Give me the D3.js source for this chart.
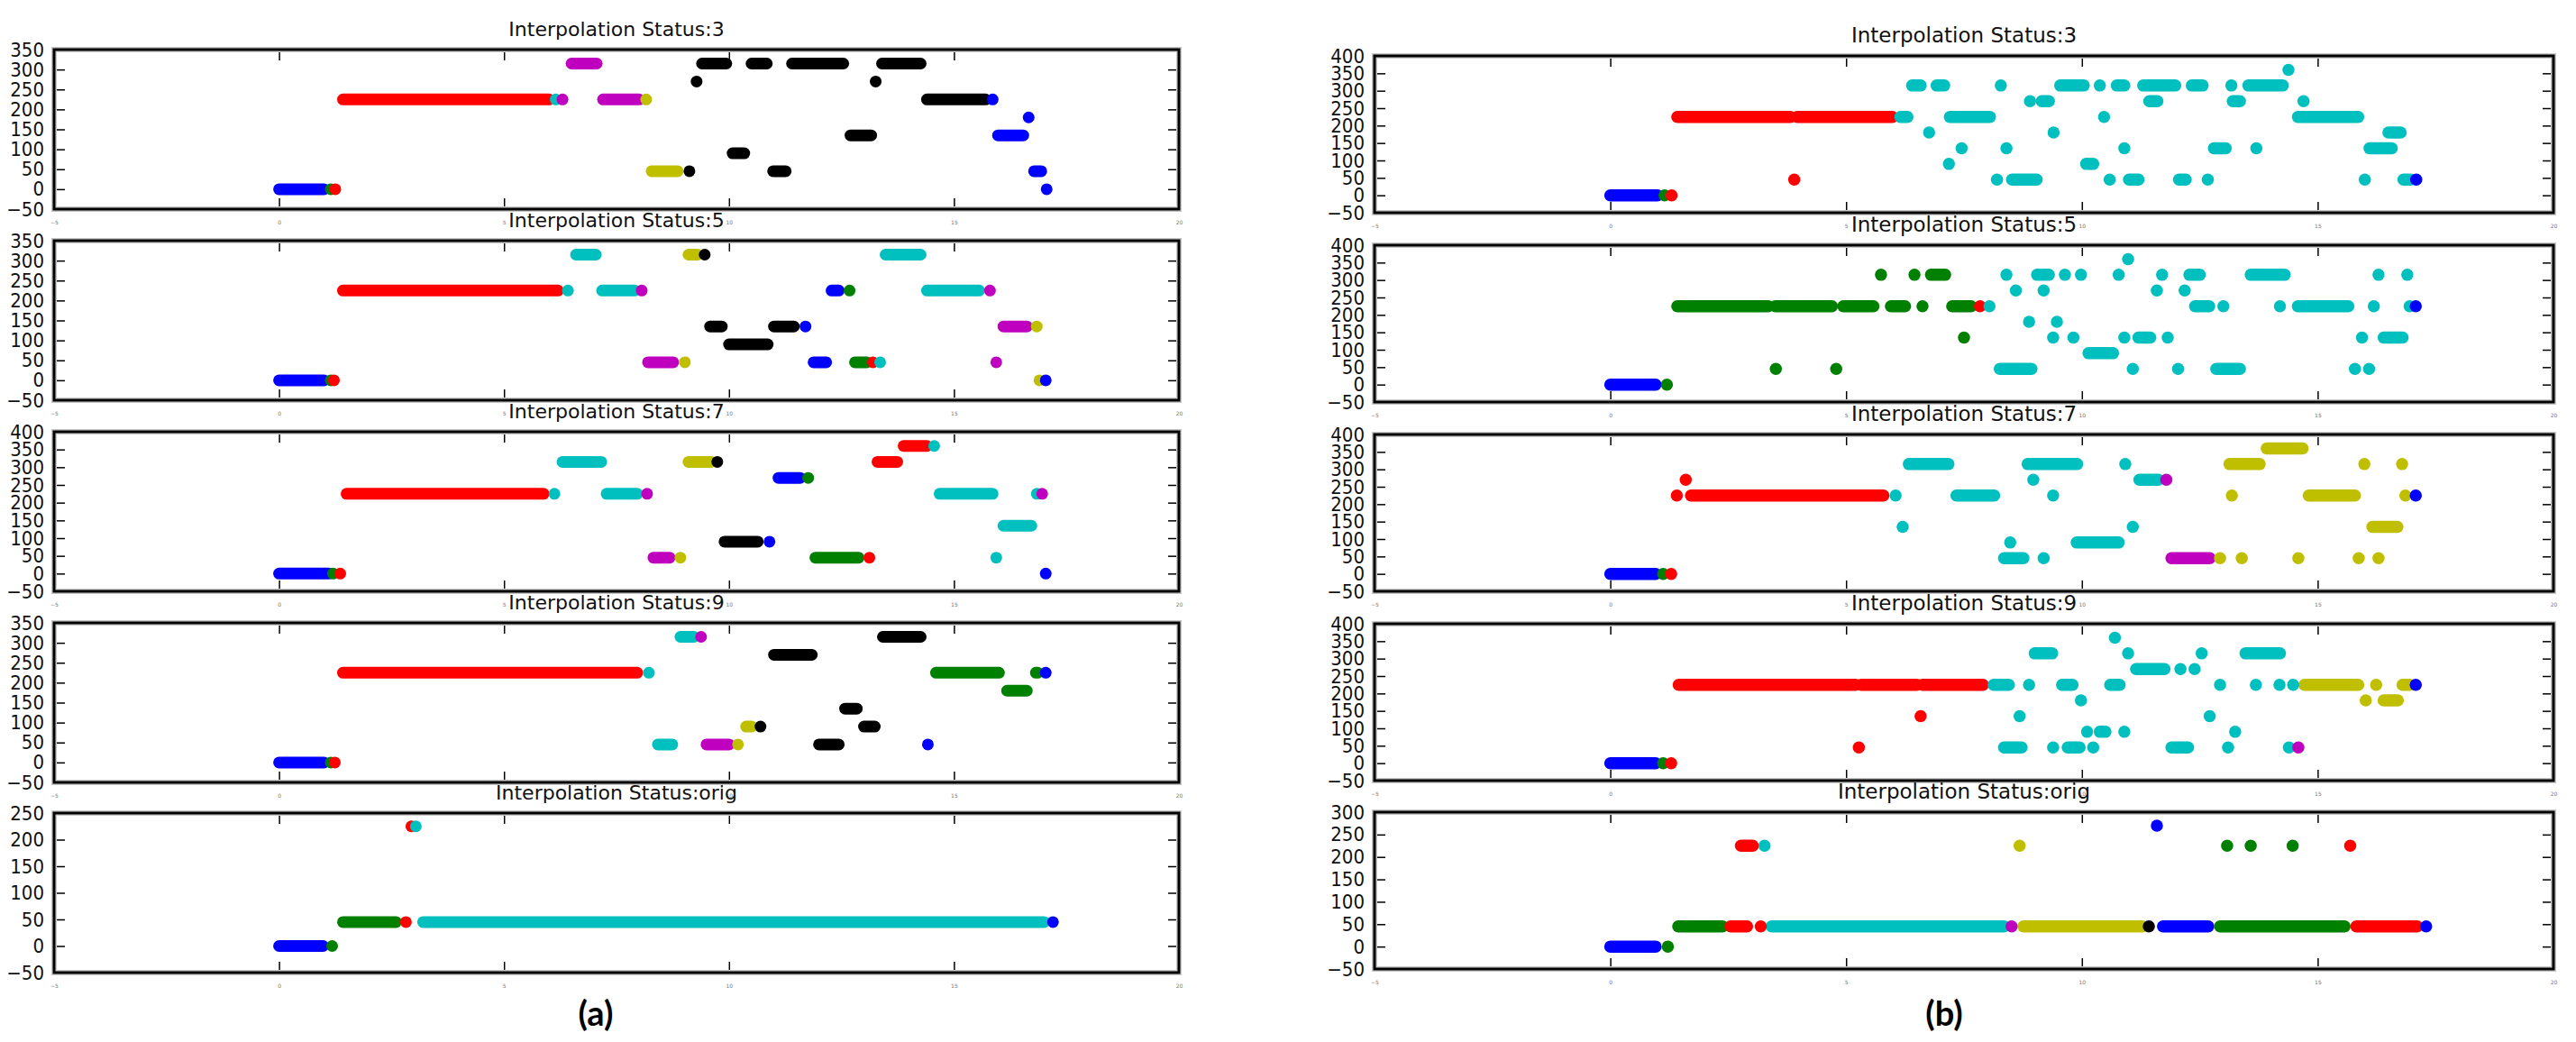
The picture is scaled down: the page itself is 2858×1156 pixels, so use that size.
<!DOCTYPE html>
<html>
<head>
<meta charset="utf-8">
<script src="https://cdn.jsdelivr.net/npm/d3@7"></script>
<style>
  body { margin: 0; background: #fff; }
  svg { display: block; }
</style>
</head>
<body>
<svg id="chart"></svg>
<script>
// Panel titles and tick values
const titles = ["Interpolation Status:3", "Interpolation Status:5", "Interpolation Status:7",
                "Interpolation Status:9", "Interpolation Status:orig"];
const xTicks = [-5, 0, 5, 10, 15, 20];
const yMaxA = [350, 350, 400, 350, 250];
const yMaxB = [400, 400, 400, 400, 300];

// Each run: [colour, x start, x end, y]  (x start == x end is a single point)
const a3 = [
  ["b", 0, 1.0, 0], ["g", 1.15, 1.15, 0], ["r", 1.25, 1.25, 0],
  ["r", 1.42, 6.0, 225], ["c", 6.15, 6.15, 225], ["m", 6.3, 6.3, 225],
  ["m", 6.5, 7.06, 315],
  ["m", 7.2, 8.0, 225], ["y", 8.16, 8.16, 225],
  ["y", 8.28, 8.86, 45], ["k", 9.12, 9.12, 45],
  ["k", 9.28, 9.28, 270], ["k", 13.26, 13.26, 270],
  ["k", 9.4, 9.94, 315], ["k", 10.5, 10.84, 315], ["k", 11.4, 12.54, 315], ["k", 13.4, 14.26, 315],
  ["k", 10.08, 10.34, 90],
  ["k", 10.98, 11.26, 45],
  ["k", 12.7, 13.16, 135],
  ["k", 14.4, 15.7, 225], ["b", 15.86, 15.86, 225],
  ["b", 15.98, 16.54, 135],
  ["b", 16.66, 16.66, 180],
  ["b", 16.78, 16.94, 45],
  ["b", 17.06, 17.06, 0]
];
const a5 = [
  ["b", 0, 1.0, 0], ["g", 1.15, 1.15, 0], ["r", 1.22, 1.22, 0],
  ["r", 1.42, 6.2, 225], ["c", 6.42, 6.42, 225],
  ["c", 6.6, 7.04, 315],
  ["c", 7.18, 7.9, 225], ["m", 8.06, 8.06, 225],
  ["m", 8.2, 8.76, 45], ["y", 9.02, 9.02, 45],
  ["y", 9.1, 9.3, 315], ["k", 9.46, 9.46, 315],
  ["k", 9.58, 9.84, 135],
  ["k", 10.0, 10.86, 90],
  ["k", 11.0, 11.44, 135], ["b", 11.7, 11.7, 135],
  ["b", 11.88, 12.16, 45],
  ["b", 12.28, 12.44, 225], ["g", 12.68, 12.68, 225],
  ["g", 12.8, 13.06, 45], ["r", 13.2, 13.2, 45], ["c", 13.36, 13.36, 45],
  ["c", 13.48, 14.26, 315],
  ["c", 14.4, 15.56, 225], ["m", 15.8, 15.8, 225],
  ["m", 15.94, 15.94, 45],
  ["m", 16.1, 16.62, 135], ["y", 16.84, 16.84, 135],
  ["y", 16.9, 16.9, 0], ["b", 17.04, 17.04, 0]
];
const a7 = [
  ["b", 0, 1.1, 0], ["g", 1.2, 1.2, 0], ["r", 1.36, 1.36, 0],
  ["r", 1.5, 5.88, 225], ["c", 6.12, 6.12, 225],
  ["c", 6.3, 7.16, 315],
  ["c", 7.28, 7.96, 225], ["m", 8.18, 8.18, 225],
  ["m", 8.32, 8.68, 45], ["y", 8.92, 8.92, 45],
  ["y", 9.1, 9.6, 315], ["k", 9.74, 9.74, 315],
  ["k", 9.9, 10.64, 90], ["b", 10.9, 10.9, 90],
  ["b", 11.1, 11.58, 270], ["g", 11.76, 11.76, 270],
  ["g", 11.92, 12.88, 45], ["r", 13.12, 13.12, 45],
  ["r", 13.3, 13.74, 315],
  ["r", 13.88, 14.4, 360], ["c", 14.56, 14.56, 360],
  ["c", 14.68, 15.86, 225],
  ["c", 15.94, 15.94, 45],
  ["c", 16.1, 16.72, 135],
  ["c", 16.84, 16.84, 225], ["m", 16.96, 16.96, 225],
  ["b", 17.04, 17.04, 0]
];
const a9 = [
  ["b", 0, 1.0, 0], ["g", 1.15, 1.15, 0], ["r", 1.24, 1.24, 0],
  ["r", 1.42, 7.96, 225], ["c", 8.22, 8.22, 225],
  ["c", 8.42, 8.74, 45],
  ["c", 8.92, 9.22, 315], ["m", 9.38, 9.38, 315],
  ["m", 9.5, 10.0, 45], ["y", 10.2, 10.2, 45],
  ["y", 10.38, 10.5, 90], ["k", 10.7, 10.7, 90],
  ["k", 11.0, 11.84, 270],
  ["k", 12.0, 12.44, 45],
  ["k", 12.58, 12.84, 135],
  ["k", 13.0, 13.24, 90],
  ["k", 13.42, 14.26, 315],
  ["b", 14.42, 14.42, 45],
  ["g", 14.6, 16.0, 225],
  ["g", 16.18, 16.62, 180],
  ["g", 16.82, 16.86, 225], ["b", 17.04, 17.04, 225]
];
const aOrig = [
  ["b", 0, 0.98, 0], ["g", 1.18, 1.18, 0],
  ["g", 1.42, 2.6, 45], ["r", 2.82, 2.82, 45],
  ["r", 2.94, 2.94, 225], ["c", 3.04, 3.04, 225],
  ["c", 3.2, 17.0, 45], ["b", 17.2, 17.2, 45]
];

const b3 = [
  ["b", 0, 1.0, 0], ["g", 1.15, 1.15, 0], ["r", 1.3, 1.3, 0],
  ["r", 1.42, 3.82, 225], ["r", 3.96, 5.98, 225], ["c", 6.15, 6.3, 225],
  ["r", 3.9, 3.9, 45],
  ["c", 6.4, 6.58, 315], ["c", 6.92, 7.08, 315],
  ["c", 6.76, 6.76, 180],
  ["c", 7.18, 7.18, 90],
  ["c", 7.2, 8.05, 225],
  ["c", 7.45, 7.45, 135],
  ["c", 8.2, 8.2, 45], ["c", 8.52, 9.04, 45],
  ["c", 8.28, 8.28, 315],
  ["c", 8.4, 8.4, 135],
  ["c", 8.9, 8.9, 270], ["c", 9.15, 9.3, 270],
  ["c", 9.4, 9.4, 180],
  ["c", 9.54, 10.04, 315],
  ["c", 10.09, 10.24, 90],
  ["c", 10.38, 10.38, 315],
  ["c", 10.47, 10.47, 225],
  ["c", 10.59, 10.59, 45],
  ["c", 10.74, 10.9, 315],
  ["c", 10.9, 10.9, 135],
  ["c", 11.0, 11.2, 45],
  ["c", 11.3, 11.98, 315],
  ["c", 11.43, 11.6, 270],
  ["c", 12.06, 12.2, 45],
  ["c", 12.33, 12.56, 315],
  ["c", 12.67, 12.67, 45],
  ["c", 12.8, 13.05, 135],
  ["c", 13.17, 13.17, 315],
  ["c", 13.2, 13.35, 270],
  ["c", 13.53, 14.26, 315],
  ["c", 13.7, 13.7, 135],
  ["c", 14.38, 14.38, 360],
  ["c", 14.58, 15.86, 225],
  ["c", 14.7, 14.7, 270],
  ["c", 16.0, 16.0, 45],
  ["c", 16.1, 16.57, 135],
  ["c", 16.5, 16.76, 180],
  ["c", 16.82, 16.97, 45], ["b", 17.09, 17.09, 45]
];
const b5 = [
  ["b", 0, 0.96, 0], ["g", 1.2, 1.2, 0],
  ["g", 1.42, 3.35, 225], ["g", 3.5, 4.7, 225], ["g", 4.94, 5.58, 225], ["g", 5.95, 6.25, 225],
  ["g", 6.62, 6.62, 225], ["g", 7.25, 7.65, 225], ["r", 7.84, 7.84, 225], ["c", 8.04, 8.04, 225],
  ["g", 5.74, 5.74, 315], ["g", 6.45, 6.45, 315], ["g", 6.8, 7.1, 315],
  ["g", 7.5, 7.5, 135],
  ["g", 3.51, 3.51, 45], ["g", 4.79, 4.79, 45],
  ["c", 10.98, 10.98, 360],
  ["c", 8.4, 8.4, 315], ["c", 9.05, 9.3, 315], ["c", 9.64, 9.64, 315], ["c", 9.98, 9.98, 315],
  ["c", 10.78, 10.78, 315], ["c", 11.7, 11.7, 315], ["c", 12.28, 12.5, 315], ["c", 13.58, 14.3, 315],
  ["c", 16.29, 16.29, 315], ["c", 16.9, 16.9, 315],
  ["c", 8.6, 8.6, 270], ["c", 9.19, 9.19, 270], ["c", 11.59, 11.59, 270], ["c", 12.18, 12.18, 270],
  ["c", 12.4, 12.7, 225], ["c", 13.0, 13.0, 225], ["c", 14.2, 14.2, 225], ["c", 14.58, 15.65, 225],
  ["c", 16.19, 16.19, 225], ["c", 16.95, 16.95, 225], ["b", 17.08, 17.08, 225],
  ["c", 8.88, 8.88, 180], ["c", 9.47, 9.47, 180],
  ["c", 9.39, 9.39, 135], ["c", 9.82, 9.82, 135], ["c", 10.9, 10.9, 135], ["c", 11.2, 11.45, 135],
  ["c", 11.82, 11.82, 135], ["c", 15.94, 15.94, 135], ["c", 16.4, 16.8, 135],
  ["c", 10.14, 10.66, 90],
  ["c", 8.26, 8.93, 45], ["c", 11.08, 11.08, 45], ["c", 12.04, 12.04, 45], ["c", 12.85, 13.35, 45],
  ["c", 15.79, 15.79, 45], ["c", 16.09, 16.09, 45]
];
const b7 = [
  ["b", 0, 0.96, 0], ["g", 1.12, 1.12, 0], ["r", 1.29, 1.29, 0],
  ["r", 1.41, 1.41, 225], ["r", 1.71, 5.79, 225], ["c", 6.05, 6.05, 225],
  ["r", 1.6, 1.6, 270],
  ["c", 6.33, 7.17, 315], ["c", 8.85, 9.9, 315], ["c", 10.92, 10.92, 315],
  ["c", 8.97, 8.97, 270], ["c", 11.22, 11.62, 270], ["m", 11.79, 11.79, 270],
  ["c", 7.34, 8.14, 225], ["c", 9.39, 9.39, 225],
  ["c", 6.2, 6.2, 135], ["c", 11.08, 11.08, 135],
  ["c", 8.48, 8.48, 90], ["c", 9.89, 10.78, 90],
  ["c", 8.35, 8.76, 45], ["c", 9.19, 9.19, 45],
  ["m", 11.9, 12.71, 45], ["y", 12.93, 12.93, 45],
  ["y", 13.39, 13.39, 45], ["y", 14.59, 14.59, 45], ["y", 15.87, 15.87, 45], ["y", 16.29, 16.29, 45],
  ["y", 13.92, 14.68, 360],
  ["y", 13.13, 13.77, 315], ["y", 15.99, 15.99, 315], ["y", 16.79, 16.79, 315],
  ["y", 13.18, 13.18, 225], ["y", 14.81, 15.79, 225], ["y", 16.86, 16.86, 225], ["b", 17.08, 17.08, 225],
  ["y", 16.16, 16.69, 135]
];
const b9 = [
  ["b", 0, 0.96, 0], ["g", 1.12, 1.12, 0], ["r", 1.29, 1.29, 0],
  ["r", 1.45, 5.2, 225], ["r", 5.32, 6.5, 225], ["r", 6.62, 7.9, 225], ["c", 8.13, 8.45, 225],
  ["r", 6.58, 6.58, 135],
  ["r", 5.27, 5.27, 45],
  ["c", 10.7, 10.7, 360],
  ["c", 9.0, 9.37, 315], ["c", 10.98, 10.98, 315], ["c", 12.54, 12.54, 315], ["c", 13.47, 14.2, 315],
  ["c", 11.15, 11.75, 270], ["c", 12.09, 12.09, 270], ["c", 12.39, 12.39, 270],
  ["c", 8.88, 8.88, 225], ["c", 9.58, 9.8, 225], ["c", 10.6, 10.8, 225], ["c", 12.93, 12.93, 225],
  ["c", 13.69, 13.69, 225], ["c", 14.19, 14.19, 225], ["c", 14.48, 14.48, 225],
  ["y", 14.72, 15.86, 225], ["y", 16.24, 16.24, 225], ["y", 16.8, 16.95, 225], ["b", 17.08, 17.08, 225],
  ["c", 9.98, 9.98, 180],
  ["y", 16.02, 16.02, 180], ["y", 16.4, 16.7, 180],
  ["c", 8.68, 8.68, 135], ["c", 12.71, 12.71, 135],
  ["c", 10.11, 10.11, 90], ["c", 10.38, 10.5, 90], ["c", 10.9, 10.9, 90], ["c", 13.25, 13.25, 90],
  ["c", 8.35, 8.72, 45], ["c", 9.39, 9.39, 45], ["c", 9.7, 9.95, 45], ["c", 10.24, 10.24, 45],
  ["c", 11.9, 12.25, 45], ["c", 13.1, 13.1, 45], ["c", 14.39, 14.39, 45], ["m", 14.59, 14.59, 45]
];
const bOrig = [
  ["b", 0, 0.96, 0], ["g", 1.22, 1.22, 0],
  ["b", 11.59, 11.59, 270],
  ["r", 2.77, 3.02, 225], ["c", 3.27, 3.27, 225],
  ["y", 8.68, 8.68, 225],
  ["g", 13.08, 13.08, 225], ["g", 13.58, 13.58, 225], ["g", 14.47, 14.47, 225],
  ["r", 15.69, 15.69, 225],
  ["g", 1.44, 2.38, 45], ["r", 2.55, 2.9, 45], ["r", 3.19, 3.19, 45],
  ["c", 3.42, 8.35, 45], ["m", 8.51, 8.51, 45], ["y", 8.76, 11.28, 45], ["k", 11.42, 11.42, 45],
  ["b", 11.72, 12.68, 45], ["g", 12.93, 15.57, 45], ["r", 15.82, 17.11, 45], ["b", 17.3, 17.3, 45]
];

// matplotlib classic colour letters
const colors = { b: "#0000ff", g: "#008000", r: "#ff0000", c: "#00bfbf", m: "#bf00bf", y: "#bfbf00", k: "#000000" };

const width = 2858, height = 1156;
const svg = d3.select("#chart")
  .attr("width", width)
  .attr("height", height);

const columns = [
  { left: 60, right: 1308, tops: [55, 267, 479, 691, 902], h: 177, data: [a3, a5, a7, a9, aOrig],
    yMax: yMaxA, label: "(a)", labelX: 661, titleSize: 22, dot: 13 },
  { left: 1525, right: 2833, tops: [62, 272, 482, 692, 901], h: 174, data: [b3, b5, b7, b9, bOrig],
    yMax: yMaxB, label: "(b)", labelX: 2157, titleSize: 23, dot: 13.5 }
];

columns.forEach(col => {
  col.tops.forEach((top, i) => {
    const g = svg.append("g");
    const x = d3.scaleLinear().domain([-5, 20]).range([col.left, col.right]);
    const y = d3.scaleLinear().domain([-50, col.yMax[i]]).range([top + col.h, top]);
    const yTicks = d3.range(-50, col.yMax[i] + 1, 50);

    // markers (runs of dots)
    const runs = col.data[i];
    g.selectAll("line.run")
      .data(runs.filter(d => d[1] !== d[2]))
      .enter().append("line")
      .attr("class", "run")
      .attr("x1", d => x(d[1])).attr("x2", d => x(d[2]))
      .attr("y1", d => y(d[3])).attr("y2", d => y(d[3]))
      .attr("stroke", d => colors[d[0]])
      .attr("stroke-width", col.dot)
      .attr("stroke-linecap", "round");
    // single points on top
    runs.forEach(d => {
      if (d[1] === d[2]) {
        g.append("circle")
          .attr("cx", x(d[1])).attr("cy", y(d[3]))
          .attr("r", col.dot / 2)
          .attr("fill", colors[d[0]]);
      }
    });

    // axes with inward ticks
    const yAxis = g.append("g")
      .attr("transform", `translate(${col.left},0)`)
      .call(d3.axisLeft(y).tickValues(yTicks).tickSizeInner(-12).tickSizeOuter(0).tickPadding(11));
    yAxis.selectAll("text")
      .attr("font-family", "'DejaVu Sans Condensed', 'DejaVu Sans', sans-serif")
      .attr("font-size", 22).attr("fill", "#111");

    g.append("g")
      .attr("transform", `translate(${col.right},0)`)
      .call(d3.axisRight(y).tickValues(yTicks).tickSizeInner(-12).tickSizeOuter(0).tickFormat(""));

    g.append("g")
      .attr("transform", `translate(0,${top})`)
      .call(d3.axisTop(x).tickValues(xTicks).tickSizeInner(-12).tickSizeOuter(0).tickFormat(""));

    const xAxis = g.append("g")
      .attr("transform", `translate(0,${top + col.h})`)
      .call(d3.axisBottom(x).tickValues(xTicks).tickSizeInner(-12).tickSizeOuter(0).tickPadding(13));
    xAxis.selectAll("text")
      .attr("font-family", "'DejaVu Sans', sans-serif")
      .attr("font-size", 6).attr("fill", "#777");

    g.selectAll(".domain").remove();
    g.selectAll(".tick line").attr("stroke", "#000").attr("stroke-width", 1.5);

    // frame
    g.append("rect")
      .attr("x", col.left).attr("y", top)
      .attr("width", col.right - col.left).attr("height", col.h)
      .attr("fill", "none").attr("stroke", "#c8c8c8").attr("stroke-width", 6);
    g.append("rect")
      .attr("x", col.left).attr("y", top)
      .attr("width", col.right - col.left).attr("height", col.h)
      .attr("fill", "none").attr("stroke", "#000").attr("stroke-width", 3);

    // title
    g.append("text")
      .attr("x", (col.left + col.right) / 2)
      .attr("y", top - 15)
      .attr("text-anchor", "middle")
      .attr("font-family", "'DejaVu Sans', sans-serif")
      .attr("font-size", col.titleSize)
      .attr("fill", "#111")
      .text(titles[i]);
  });

  svg.append("text")
    .attr("x", col.labelX)
    .attr("y", 1138)
    .attr("text-anchor", "middle")
    .attr("font-family", "Lato, 'Open Sans', sans-serif")
    .attr("font-weight", "bold")
    .attr("font-size", 38)
    .attr("fill", "#000")
    .text(col.label);
});
</script>
</body>
</html>
